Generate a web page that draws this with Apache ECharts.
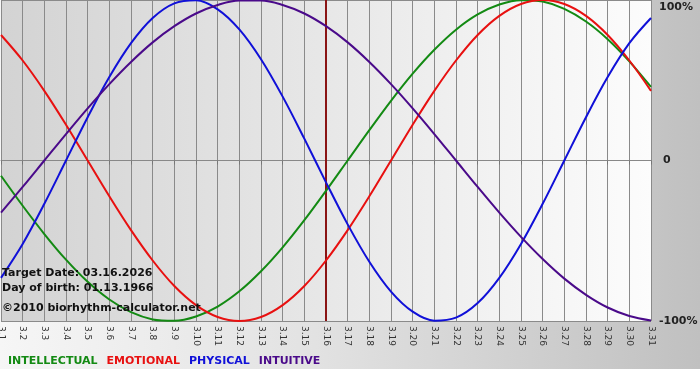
<!DOCTYPE html>
<html>
<head>
<meta charset="utf-8">
<script src="https://cdn.jsdelivr.net/npm/echarts@6/dist/echarts.min.js"></script>
<style>
  html, body { margin: 0; padding: 0; background: #fff; }
  #chart { width: 700px; height: 380px; }
</style>
</head>
<body>
<div id="chart"></div>
<script>
// days of March 2026
var days = ['3.1','3.2','3.3','3.4','3.5','3.6','3.7','3.8','3.9','3.10','3.11','3.12','3.13','3.14','3.15','3.16',
    '3.17','3.18','3.19','3.20','3.21','3.22','3.23','3.24','3.25','3.26','3.27','3.28','3.29','3.30','3.31'];

// values in percent
var intellectual = [-9.5,-28.2,-45.8,-61.8,-75.6,-86.6,-94.5,-99.0,-99.9,-97.2,-91.0,-81.5,-69.0,-54.1,-37.2,-18.9,
    0,18.9,37.2,54.1,69.0,81.5,91.0,97.2,99.9,99.0,94.5,86.6,75.6,61.8,45.8];
var emotional = [78.2,62.3,43.4,22.3,0,-22.3,-43.4,-62.3,-78.2,-90.1,-97.5,-100,-97.5,-90.1,-78.2,-62.3,
    -43.4,-22.3,0,22.3,43.4,62.3,78.2,90.1,97.5,100,97.5,90.1,78.2,62.3,43.4];
var physical = [-73.1,-52.0,-27.0,0,27.0,52.0,73.1,88.8,97.9,99.8,94.2,81.7,63.1,39.8,13.6,-13.6,
    -39.8,-63.1,-81.7,-94.2,-99.8,-97.9,-88.8,-73.1,-52.0,-27.0,0,27.0,52.0,73.1,88.8];
var intuitive = [-32.5,-16.5,0,16.5,32.5,47.6,61.4,73.6,83.7,91.6,96.9,99.7,99.7,96.9,91.6,83.7,
    73.6,61.4,47.6,32.5,16.5,0,-16.5,-32.5,-47.6,-61.4,-73.6,-83.7,-91.6,-96.9,-99.7];

var targetDay = '3.16';
var infoLines = ['Target Date: 03.16.2026', 'Day of birth: 01.13.1966'];
var copyright = '\u00a92010 biorhythm-calculator.net';

var colors = {
    INTELLECTUAL: '#138a13',
    EMOTIONAL: '#e81010',
    PHYSICAL: '#1010d8',
    INTUITIVE: '#4a0a8a'
};

var fontFam = '"DejaVu Sans", Verdana, sans-serif';

function lineSeries(name, data) {
    return {
        name: name,
        type: 'line',
        data: data,
        smooth: 0.35,
        symbol: 'none',
        lineStyle: { color: colors[name], width: 2 },
        itemStyle: { color: colors[name] },
        z: 3
    };
}

var series = [
    lineSeries('INTELLECTUAL', intellectual),
    lineSeries('EMOTIONAL', emotional),
    lineSeries('PHYSICAL', physical),
    lineSeries('INTUITIVE', intuitive)
];
// target date marker
series[0].markLine = {
    silent: true,
    symbol: 'none',
    label: { show: false },
    lineStyle: { color: '#8a1414', width: 2, type: 'solid' },
    data: [{ xAxis: targetDay }],
    z: 2
};

var myChart = echarts.init(document.getElementById('chart'), null, { renderer: 'canvas' });
var options = {
    animation: false,
    backgroundColor: 'transparent',
    grid: {
        left: 1,
        right: 49,
        top: 0,
        bottom: 59,
        outerBoundsMode: 'none',
        containLabel: false,
        show: true,
        borderWidth: 0,
        backgroundColor: new echarts.graphic.LinearGradient(0, 0, 1, 0, [
            { offset: 0, color: '#d3d3d3' },
            { offset: 1, color: '#fcfcfc' }
        ])
    },
    legend: {
        left: 8,
        top: 354,
        padding: 0,
        itemWidth: 0,
        itemHeight: 14,
        itemGap: 9,
        icon: 'rect',
        selectedMode: false,
        textStyle: { fontFamily: fontFam, fontWeight: 'bold', fontSize: 11, padding: [0, 0, 0, -5] },
        data: [
            { name: 'INTELLECTUAL', textStyle: { color: colors.INTELLECTUAL } },
            { name: 'EMOTIONAL', textStyle: { color: colors.EMOTIONAL } },
            { name: 'PHYSICAL', textStyle: { color: colors.PHYSICAL } },
            { name: 'INTUITIVE', textStyle: { color: colors.INTUITIVE } }
        ]
    },
    xAxis: {
        type: 'category',
        data: days,
        boundaryGap: false,
        axisLine: { show: true, lineStyle: { color: '#888', width: 1 } },
        axisTick: { show: true, interval: 0, length: 4, lineStyle: { color: '#777' } },
        axisLabel: {
            interval: 0,
            rotate: -90,
            margin: 5,
            hideOverlap: false,
            fontFamily: fontFam,
            fontSize: 9,
            color: '#333'
        },
        splitLine: { show: true, interval: 0, lineStyle: { color: '#8a8a8a', width: 1 } }
    },
    yAxis: {
        type: 'value',
        position: 'right',
        min: -100,
        max: 100,
        interval: 100,
        axisLine: { show: false },
        axisTick: { show: false },
        splitLine: { show: true, lineStyle: { color: '#8a8a8a', width: 1 } },
        axisLabel: {
            margin: 8,
            fontFamily: fontFam,
            fontWeight: 'bold',
            fontSize: 11,
            color: '#222',
            formatter: function (v) {
                if (v === 100) return '{t|100%}';
                if (v === 0) return '{z|0}';
                return '-100%';
            },
            rich: {
                t: { fontFamily: fontFam, fontWeight: 'bold', fontSize: 11, color: '#222', padding: [14, 0, 0, 0] },
                z: { fontFamily: fontFam, fontWeight: 'bold', fontSize: 11, color: '#222', padding: [0, 0, 0, 4] }
            }
        }
    },
    graphic: [
        {
            type: 'rect',
            z: -10,
            silent: true,
            shape: { x: 0, y: 0, width: 700, height: 369 },
            style: {
                fill: new echarts.graphic.LinearGradient(0, 0, 1, 0, [
                    { offset: 0, color: '#f6f6f6' },
                    { offset: 0.45, color: '#e2e2e2' },
                    { offset: 1, color: '#c0c0c0' }
                ])
            }
        },
        {
            type: 'text', left: 2, top: 268, z: 10, silent: true,
            style: { text: infoLines[0], font: 'bold 11px ' + fontFam, fill: '#111' }
        },
        {
            type: 'text', left: 2, top: 283, z: 10, silent: true,
            style: { text: infoLines[1], font: 'bold 11px ' + fontFam, fill: '#111' }
        },
        {
            type: 'text', left: 2, top: 303, z: 10, silent: true,
            style: { text: copyright, font: 'bold 11px ' + fontFam, fill: '#111' }
        }
    ],
    series: series
};
myChart.setOption(options);
window.onresize = myChart.resize;
</script>
</body>
</html>
